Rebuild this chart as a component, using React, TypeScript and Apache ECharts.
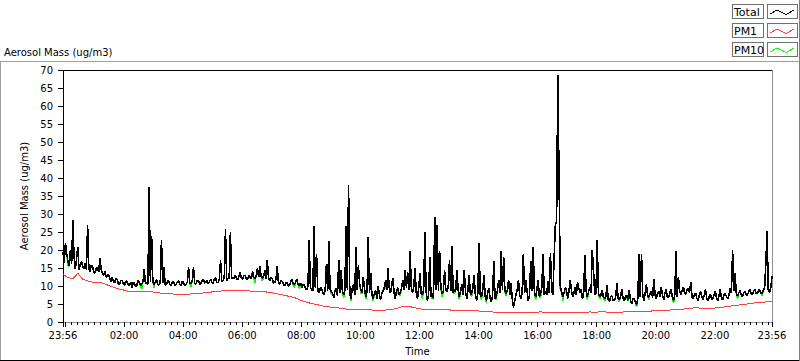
import React, { useEffect, useRef } from "react";
import * as echarts from "echarts";

// ---- axis / time configuration ----
const START_CLOCK_MIN = 23 * 60 + 56; // 23:56
const SPAN_MIN = 1440;
const TOTAL_STEP_MIN = 2.5;
const PM1_STEP_MIN = 10;

const TICK_LABEL_MINUTES = [0, 124, 244, 364, 484, 604, 724, 844, 964, 1084, 1204, 1324, 1440];
const TICK_LABELS = ["23:56", "02:00", "04:00", "06:00", "08:00", "10:00", "12:00", "14:00", "16:00", "18:00", "20:00", "22:00", "23:56"];

const Y_MIN = 0;
const Y_MAX = 70;
const Y_INTERVAL = 5;

const LEGEND_NAMES = ["Total", "PM1", "PM10"];
const SERIES_COLORS: Record<string, string> = { Total: "#000000", PM1: "#ff3f3f", PM10: "#00ff00" };

// ---- data (ug/m3) ----
// Total, one value every 2.5 minutes from 23:56
const TOTAL = [
  19.5, 16.5, 22.0, 19.0, 17.0, 15.5, 20.0, 16.0, 28.3, 18.0, 14.8, 17.5, 20.8, 14.5, 16.0, 16.8, 15.5, 14.8, 16.3, 14.6,
  26.8, 15.0, 14.0, 15.8, 15.5, 14.0, 13.6, 14.8, 15.2, 13.8, 17.7, 14.5, 13.5, 13.0, 14.2, 12.5, 12.8, 13.3, 12.0, 11.3,
  12.5, 11.2, 11.0, 12.0, 11.8, 10.6, 10.4, 11.6, 11.5, 10.5, 10.2, 11.4, 11.2, 10.3, 10.0, 11.0, 9.6, 10.9, 10.8, 9.8,
  10.2, 11.5, 11.0, 10.0, 10.5, 11.2, 14.6, 10.6, 10.8, 10.5, 37.6, 11.0, 24.0, 11.0, 10.5, 11.2, 11.8, 10.3, 10.4, 11.0,
  22.9, 10.8, 15.4, 10.2, 10.4, 11.5, 11.3, 10.3, 10.1, 11.4, 11.0, 10.2, 10.5, 11.2, 11.4, 10.4, 10.2, 11.3, 10.9, 10.0,
  10.5, 11.2, 15.2, 10.6, 10.8, 11.3, 15.2, 10.7, 10.6, 11.6, 11.5, 10.5, 10.7, 11.4, 12.0, 10.8, 11.0, 11.6, 10.6, 11.2,
  11.8, 10.9, 10.8, 12.0, 12.2, 10.9, 11.0, 11.8, 17.1, 11.2, 11.5, 12.4, 25.8, 11.5, 12.0, 12.2, 25.1, 12.0, 12.5, 12.0,
  13.0, 12.0, 11.8, 12.8, 13.7, 12.1, 12.0, 13.0, 12.8, 11.8, 11.9, 13.0, 12.5, 12.0, 14.0, 12.3, 12.2, 13.0, 14.9, 12.4,
  15.6, 12.5, 12.2, 12.8, 14.4, 12.0, 17.2, 12.2, 11.5, 12.3, 12.0, 10.8, 11.0, 11.8, 15.4, 11.0, 10.5, 11.4, 11.3, 10.6,
  10.0, 10.8, 11.0, 10.0, 10.2, 11.2, 11.8, 10.5, 10.4, 11.0, 12.0, 10.3, 10.0, 10.9, 9.5, 10.4, 10.2, 9.3, 9.0, 9.8,
  22.9, 9.6, 9.0, 8.6, 26.8, 9.5, 19.0, 8.8, 8.0, 9.3, 9.5, 8.2, 7.6, 9.0, 16.0, 8.5, 22.4, 9.0, 8.5, 8.0,
  6.8, 8.8, 9.5, 7.2, 17.1, 8.0, 14.4, 8.5, 7.5, 8.8, 26.8, 9.0, 38.0, 8.0, 6.5, 9.5, 10.5, 7.5, 20.7, 9.0,
  15.7, 10.5, 9.0, 8.0, 12.5, 9.0, 7.0, 8.5, 23.5, 8.0, 13.5, 7.5, 6.5, 8.0, 8.8, 6.5, 10.0, 7.8, 6.2, 8.0,
  8.5, 9.5, 11.5, 9.0, 14.9, 9.5, 8.0, 10.0, 12.3, 8.0, 6.5, 8.8, 9.5, 7.5, 8.2, 9.2, 11.5, 9.0, 14.3, 9.5,
  13.8, 9.0, 19.8, 9.5, 8.0, 10.0, 14.9, 8.0, 6.5, 9.5, 13.5, 8.0, 7.5, 9.0, 25.1, 8.5, 6.0, 7.5, 18.0, 7.0,
  8.0, 6.5, 29.3, 9.0, 27.0, 8.5, 19.6, 9.5, 7.8, 8.5, 14.4, 9.0, 8.5, 10.0, 17.2, 8.5, 21.1, 8.0, 9.0, 8.5,
  14.4, 9.0, 7.0, 8.5, 10.5, 7.5, 14.4, 8.5, 6.5, 9.0, 13.0, 7.5, 8.0, 9.5, 13.0, 7.5, 6.0, 8.0, 22.0, 7.5,
  7.0, 9.0, 13.0, 7.0, 6.0, 8.0, 9.5, 6.5, 5.5, 7.5, 16.8, 6.5, 7.0, 9.0, 11.7, 8.0, 19.7, 9.0, 18.1, 8.5,
  8.0, 9.0, 11.7, 7.5, 10.7, 6.5, 4.0, 6.0, 7.5, 9.0, 11.7, 7.5, 6.5, 8.0, 19.0, 8.0, 11.7, 8.5, 6.0, 7.5,
  16.8, 8.5, 20.9, 8.0, 7.0, 9.0, 11.7, 7.0, 8.0, 9.5, 18.8, 7.5, 8.5, 7.5, 11.5, 8.0, 19.2, 9.0, 7.5, 17.8,
  27.0, 28.0, 68.6, 40.0, 10.0, 8.5, 7.0, 8.0, 9.5, 9.0, 6.5, 8.5, 11.7, 9.0, 7.0, 8.0, 9.8, 7.5, 11.0, 9.5,
  8.0, 9.0, 6.5, 8.0, 18.5, 8.5, 7.0, 8.5, 9.8, 8.0, 19.9, 14.4, 7.5, 8.0, 22.8, 8.0, 7.0, 7.5, 8.8, 7.0,
  6.5, 7.0, 10.2, 6.0, 5.8, 7.0, 7.2, 6.0, 6.0, 7.0, 10.7, 6.5, 6.2, 7.0, 9.2, 6.5, 5.8, 7.0, 7.5, 6.0,
  8.8, 6.0, 5.0, 6.5, 6.5, 5.5, 4.8, 6.5, 18.8, 7.0, 19.0, 7.5, 6.0, 8.0, 10.5, 7.0, 7.0, 8.0, 8.5, 6.8,
  11.9, 7.5, 6.5, 8.0, 8.5, 7.0, 9.8, 7.5, 6.2, 8.0, 9.0, 7.0, 6.8, 8.0, 9.2, 7.0, 6.0, 7.5, 19.6, 7.0,
  12.4, 8.5, 7.5, 8.8, 9.8, 8.0, 7.8, 9.0, 9.5, 8.0, 11.2, 7.0, 6.5, 7.5, 8.0, 6.5, 6.0, 7.5, 8.5, 7.0,
  6.2, 7.5, 9.0, 6.5, 5.8, 7.0, 7.8, 6.2, 6.5, 7.5, 8.5, 6.5, 6.0, 7.5, 9.0, 6.5, 6.2, 7.5, 8.0, 7.0,
  6.5, 7.5, 9.3, 8.0, 20.0, 8.5, 13.5, 8.0, 7.2, 8.0, 8.8, 7.5, 7.0, 8.0, 8.6, 7.5, 7.5, 8.3, 9.0, 8.0,
  7.6, 8.5, 9.2, 8.0, 7.8, 8.8, 9.0, 8.0, 8.0, 8.8, 9.5, 16.3, 25.2, 9.0, 8.2, 9.5, 12.7,
];

// PM10, one value every 2.5 minutes from 23:56
const PM10 = [
  19.5, 16.5, 22.0, 19.0, 15.8, 15.5, 20.0, 16.0, 28.3, 18.0, 14.8, 17.5, 20.8, 14.5, 16.0, 16.8, 15.5, 14.8, 16.3, 14.6,
  26.8, 15.0, 14.0, 15.8, 15.5, 14.0, 13.6, 14.8, 15.2, 13.8, 17.7, 14.5, 13.5, 13.0, 14.2, 12.5, 12.8, 13.3, 12.0, 11.3,
  12.5, 11.2, 11.0, 12.0, 11.8, 10.6, 10.4, 11.6, 11.5, 10.5, 10.2, 11.4, 11.2, 10.3, 10.0, 11.0, 9.6, 10.9, 10.8, 9.8,
  10.2, 11.5, 11.0, 10.0, 9.3, 11.2, 14.6, 10.6, 10.8, 10.5, 37.6, 11.0, 24.0, 11.0, 9.6, 11.2, 11.8, 10.3, 10.4, 11.0,
  22.9, 10.8, 15.4, 10.2, 10.4, 11.5, 11.3, 10.3, 10.1, 11.4, 11.0, 10.2, 10.5, 11.2, 11.4, 10.4, 10.2, 11.3, 10.9, 10.0,
  10.5, 11.2, 15.2, 10.6, 9.8, 11.3, 15.2, 10.7, 10.6, 11.6, 11.5, 10.5, 10.7, 11.4, 12.0, 10.8, 11.0, 11.6, 10.6, 11.2,
  11.8, 10.9, 10.8, 12.0, 12.2, 10.9, 11.0, 11.8, 17.1, 11.2, 11.5, 12.4, 25.8, 11.5, 12.0, 12.2, 25.1, 12.0, 12.5, 12.0,
  13.0, 12.0, 11.8, 12.8, 13.7, 12.1, 12.0, 13.0, 12.8, 11.8, 11.9, 13.0, 12.5, 12.0, 14.0, 12.3, 11.0, 13.0, 14.9, 12.4,
  15.6, 12.5, 11.3, 12.8, 14.4, 12.0, 17.2, 12.2, 11.5, 12.3, 12.0, 10.8, 11.0, 11.8, 15.4, 11.0, 10.5, 11.4, 11.3, 10.6,
  10.0, 10.8, 11.0, 10.0, 10.2, 11.2, 11.8, 10.5, 9.6, 11.0, 12.0, 10.3, 9.3, 10.9, 9.5, 10.4, 10.2, 9.3, 9.0, 9.8,
  22.9, 9.6, 9.0, 8.6, 26.8, 9.5, 19.0, 8.8, 8.0, 9.3, 9.5, 8.2, 7.6, 9.0, 16.0, 8.5, 22.4, 9.0, 7.6, 8.0,
  6.8, 8.8, 9.5, 7.2, 17.1, 8.0, 14.4, 8.5, 6.8, 8.8, 26.8, 9.0, 38.0, 8.0, 5.9, 9.5, 10.5, 7.5, 20.7, 9.0,
  15.7, 10.5, 8.0, 8.0, 12.5, 9.0, 6.3, 8.5, 23.5, 8.0, 13.5, 7.5, 5.8, 8.0, 8.8, 6.5, 10.0, 7.8, 6.2, 8.0,
  8.5, 9.5, 9.5, 9.0, 14.9, 9.5, 8.0, 10.0, 12.3, 8.0, 6.5, 8.8, 8.0, 7.5, 7.4, 9.2, 11.5, 9.0, 14.3, 9.5,
  13.8, 9.0, 19.8, 9.5, 8.0, 10.0, 14.9, 8.0, 6.5, 9.5, 13.5, 8.0, 6.5, 9.0, 25.1, 8.5, 6.0, 7.5, 18.0, 7.0,
  6.5, 6.5, 29.3, 9.0, 27.0, 8.5, 19.6, 9.5, 7.0, 8.5, 14.4, 9.0, 8.5, 10.0, 17.2, 8.5, 21.1, 8.0, 8.0, 8.5,
  14.4, 9.0, 6.3, 8.5, 10.5, 7.5, 14.4, 8.5, 6.5, 9.0, 13.0, 7.5, 7.0, 9.5, 13.0, 7.5, 6.0, 8.0, 22.0, 7.5,
  6.2, 9.0, 13.0, 7.0, 5.4, 8.0, 9.5, 6.5, 5.5, 7.5, 16.8, 6.5, 6.2, 9.0, 11.7, 8.0, 19.7, 9.0, 18.1, 8.5,
  7.2, 9.0, 11.7, 7.5, 10.7, 6.5, 4.0, 6.0, 7.5, 9.0, 11.7, 7.5, 6.5, 8.0, 19.0, 8.0, 11.7, 8.5, 6.0, 7.5,
  16.8, 8.5, 20.9, 8.0, 6.2, 9.0, 11.7, 7.0, 7.0, 9.5, 18.8, 7.5, 8.5, 7.5, 11.5, 8.0, 19.2, 9.0, 7.5, 17.8,
  27.0, 28.0, 68.6, 40.0, 8.5, 8.5, 6.0, 8.0, 8.2, 9.0, 6.5, 8.5, 11.7, 9.0, 7.0, 8.0, 8.8, 7.5, 11.0, 9.5,
  8.0, 9.0, 6.5, 8.0, 18.5, 8.5, 6.2, 8.5, 9.8, 8.0, 19.9, 14.4, 7.5, 8.0, 22.8, 8.0, 6.3, 7.5, 8.8, 7.0,
  5.8, 7.0, 10.2, 6.0, 5.8, 7.0, 7.2, 6.0, 6.0, 7.0, 10.7, 6.5, 5.6, 7.0, 9.2, 6.5, 5.8, 7.0, 6.6, 6.0,
  8.8, 6.0, 5.0, 6.5, 6.5, 5.5, 4.2, 6.5, 18.8, 7.0, 19.0, 7.5, 6.0, 8.0, 10.5, 7.0, 6.2, 8.0, 8.5, 6.8,
  11.9, 7.5, 6.5, 8.0, 8.5, 7.0, 9.8, 7.5, 6.2, 8.0, 9.0, 7.0, 6.8, 8.0, 9.2, 7.0, 5.2, 7.5, 19.6, 7.0,
  12.4, 8.5, 7.5, 8.8, 9.8, 8.0, 7.8, 9.0, 9.5, 8.0, 11.2, 7.0, 6.5, 7.5, 8.0, 6.5, 6.0, 7.5, 8.5, 7.0,
  6.2, 7.5, 9.0, 6.5, 5.8, 7.0, 7.8, 6.2, 6.5, 7.5, 8.5, 6.5, 6.0, 7.5, 9.0, 6.5, 6.2, 7.5, 8.0, 7.0,
  6.5, 7.5, 9.3, 8.0, 20.0, 8.5, 13.5, 8.0, 6.5, 8.0, 8.8, 7.5, 7.0, 8.0, 8.6, 7.5, 7.5, 8.3, 9.0, 8.0,
  7.6, 8.5, 9.2, 8.0, 7.8, 8.8, 9.0, 8.0, 7.2, 8.8, 9.5, 16.3, 25.2, 9.0, 8.2, 9.5, 12.7,
];

// PM1, one value every 10 minutes from 23:56
const PM1 = [
  13.2, 12.4, 12.0, 13.5, 11.9, 11.4, 11.1, 11.0, 10.8, 10.3,
  9.8, 9.3, 9.0, 8.6, 8.4, 8.5, 8.6, 8.5, 8.4, 8.2,
  8.0, 7.9, 7.8, 7.7, 7.7, 7.7, 7.8, 7.9, 8.0, 8.1,
  8.3, 8.5, 8.6, 8.7, 8.8, 8.8, 8.8, 8.7, 8.6, 8.6,
  8.5, 8.4, 8.2, 8.0, 7.7, 7.4, 7.1, 6.8, 6.2, 5.7,
  5.3, 5.0, 4.7, 4.4, 4.2, 4.0, 3.9, 3.7, 3.5, 3.5,
  3.5, 3.5, 3.4, 3.3, 3.1, 3.2, 3.4, 3.5, 3.9, 4.3,
  4.4, 4.1, 3.8, 3.5, 3.5, 3.5, 3.5, 3.4, 3.4, 3.3,
  3.3, 3.2, 3.2, 3.1, 3.1, 3.0, 2.9, 2.8, 2.7, 2.7,
  2.7, 2.6, 2.7, 2.7, 2.7, 2.6, 2.7, 2.8, 2.7, 2.7,
  2.7, 2.6, 2.7, 2.7, 2.7, 2.7, 2.7, 2.8, 2.7, 2.8,
  2.8, 2.7, 2.7, 2.7, 2.8, 2.8, 2.8, 2.9, 3.0, 3.0,
  3.1, 3.2, 3.3, 3.3, 3.4, 3.5, 3.6, 3.7, 3.9, 3.9,
  3.8, 3.7, 3.8, 4.0, 4.1, 4.3, 4.5, 4.7, 4.8, 5.0,
  5.2, 5.4, 5.5, 5.6, 5.7,
];

const FONT = "'DejaVu Sans', Tahoma, sans-serif";

function toPairs(values: number[], step: number) {
  return values.map((v, i) => [i * step, v]);
}

function labelFor(minute: number) {
  const idx = TICK_LABEL_MINUTES.indexOf(minute);
  if (idx >= 0) return TICK_LABELS[idx];
  const m = (START_CLOCK_MIN + minute) % 1440;
  const hh = String(Math.floor(m / 60)).padStart(2, "0");
  const mm = String(m % 60).padStart(2, "0");
  return `${hh}:${mm}`;
}

export default function App() {
  const ref = useRef<HTMLDivElement>(null);

  useEffect(() => {
    if (!ref.current) return;
    const chart = echarts.init(ref.current, undefined, { renderer: "svg" });

    const majorTicks = [0, 4, ...TICK_LABEL_MINUTES.slice(1)];
    const minorTicks: number[] = [];
    for (let m = 4; m < SPAN_MIN; m += 12) {
      if (!majorTicks.includes(m)) minorTicks.push(m);
    }

    const gridLeft = 63;
    const gridRight = 772;
    const gridTop = 70;
    const gridBottom = 322;

    const legendTops = [4, 23, 42];
    const legendGraphics: any[] = [];
    LEGEND_NAMES.forEach((name, r) => {
      const y0 = legendTops[r];
      legendGraphics.push(
        {
          type: "rect",
          shape: { x: 732.5, y: y0 + 0.5, width: 31, height: 14 },
          style: { fill: "#ffffff", stroke: "#707070", lineWidth: 1 },
          silent: true,
        },
        {
          type: "text",
          x: 734,
          y: y0 + 8,
          style: { text: name, fill: "#000", font: `11px ${FONT}`, verticalAlign: "middle", align: "left" },
          silent: true,
        },
        {
          type: "rect",
          shape: { x: 767.5, y: y0 + 0.5, width: 30, height: 14 },
          style: { fill: "#ffffff", stroke: "#707070", lineWidth: 1 },
          silent: true,
        },
        {
          type: "polyline",
          shape: { points: [[770, y0 + 10], [777, y0 + 6], [786, y0 + 10.5], [794, y0 + 6]] },
          style: { stroke: SERIES_COLORS[name], lineWidth: 1, fill: null },
          silent: true,
        }
      );
    });

    const frame: any[] = [
      { type: "line", shape: { x1: 0, y1: 61.5, x2: 800, y2: 61.5 }, style: { stroke: "#a0a0a0", lineWidth: 1 }, silent: true },
      { type: "line", shape: { x1: 0.5, y1: 61, x2: 0.5, y2: 361 }, style: { stroke: "#a0a0a0", lineWidth: 1 }, silent: true },
      { type: "line", shape: { x1: 0, y1: 360.5, x2: 800, y2: 360.5 }, style: { stroke: "#000000", lineWidth: 1 }, silent: true },
      { type: "line", shape: { x1: 799.5, y1: 0, x2: 799.5, y2: 361 }, style: { stroke: "#808080", lineWidth: 1 }, silent: true },
      { type: "line", shape: { x1: gridLeft, y1: gridTop + 0.5, x2: gridRight, y2: gridTop + 0.5 }, style: { stroke: "#000000", lineWidth: 1 }, silent: true },
      { type: "line", shape: { x1: gridRight + 0.5, y1: gridTop, x2: gridRight + 0.5, y2: gridBottom }, style: { stroke: "#909090", lineWidth: 1 }, silent: true },
      {
        type: "text",
        x: 4,
        y: 52,
        style: { text: "Aerosol Mass (ug/m3)", fill: "#000", font: `10px ${FONT}`, verticalAlign: "middle", align: "left" },
        silent: true,
      },
    ];

    const option: any = {
      animation: false,
      backgroundColor: "#ffffff",
      grid: {
        left: gridLeft,
        right: 800 - gridRight,
        top: gridTop,
        bottom: 361 - gridBottom,
        containLabel: false,
      },
      xAxis: [
        {
          type: "value",
          min: 0,
          max: SPAN_MIN,
          name: "Time",
          nameLocation: "middle",
          nameGap: 24,
          nameTextStyle: { color: "#000", fontSize: 10, fontFamily: FONT },
          axisLine: { show: true, lineStyle: { color: "#909090", width: 1 } },
          axisTick: { show: true, customValues: majorTicks, length: 5, lineStyle: { color: "#000" } },
          axisLabel: {
            show: true,
            customValues: TICK_LABEL_MINUTES,
            formatter: (v: number) => labelFor(Math.round(v)),
            color: "#000",
            fontSize: 10,
            fontFamily: FONT,
            margin: 8,
            showMinLabel: true,
            showMaxLabel: true,
          },
          splitLine: { show: false },
        },
        {
          type: "value",
          min: 0,
          max: SPAN_MIN,
          position: "bottom",
          axisLine: { show: false },
          axisTick: { show: true, customValues: minorTicks, length: 3, lineStyle: { color: "#000" } },
          axisLabel: { show: false },
          splitLine: { show: false },
        },
      ],
      yAxis: {
        type: "value",
        min: Y_MIN,
        max: Y_MAX,
        interval: Y_INTERVAL,
        name: "Aerosol Mass (ug/m3)",
        nameLocation: "middle",
        nameGap: 25,
        nameTextStyle: { color: "#000", fontSize: 10, fontFamily: FONT },
        axisLine: { show: true, lineStyle: { color: "#000", width: 1 } },
        axisTick: { show: true, length: 5, lineStyle: { color: "#000" } },
        axisLabel: { color: "#000", fontSize: 10, fontFamily: FONT, margin: 10 },
        splitLine: { show: false },
      },
      series: [
        {
          name: "PM1",
          type: "line",
          xAxisIndex: 0,
          data: toPairs(PM1, PM1_STEP_MIN),
          symbol: "none",
          lineStyle: { color: SERIES_COLORS.PM1, width: 1 },
          itemStyle: { color: SERIES_COLORS.PM1 },
          silent: true,
        },
        {
          name: "PM10",
          type: "line",
          xAxisIndex: 0,
          data: toPairs(PM10, TOTAL_STEP_MIN),
          symbol: "none",
          lineStyle: { color: SERIES_COLORS.PM10, width: 1.5 },
          itemStyle: { color: SERIES_COLORS.PM10 },
          silent: true,
        },
        {
          name: "Total",
          type: "line",
          xAxisIndex: 0,
          data: toPairs(TOTAL, TOTAL_STEP_MIN),
          symbol: "none",
          lineStyle: { color: SERIES_COLORS.Total, width: 1.6 },
          itemStyle: { color: SERIES_COLORS.Total },
          silent: true,
        },
      ],
      graphic: [...frame, ...legendGraphics],
    };

    chart.setOption(option);
    return () => {
      chart.dispose();
    };
  }, []);

  return (
    <div
      ref={ref}
      style={{
        position: "absolute",
        left: 0,
        top: 0,
        width: 800,
        height: 361,
        background: "#fff",
        shapeRendering: "crispEdges",
      } as any}
    />
  );
}
